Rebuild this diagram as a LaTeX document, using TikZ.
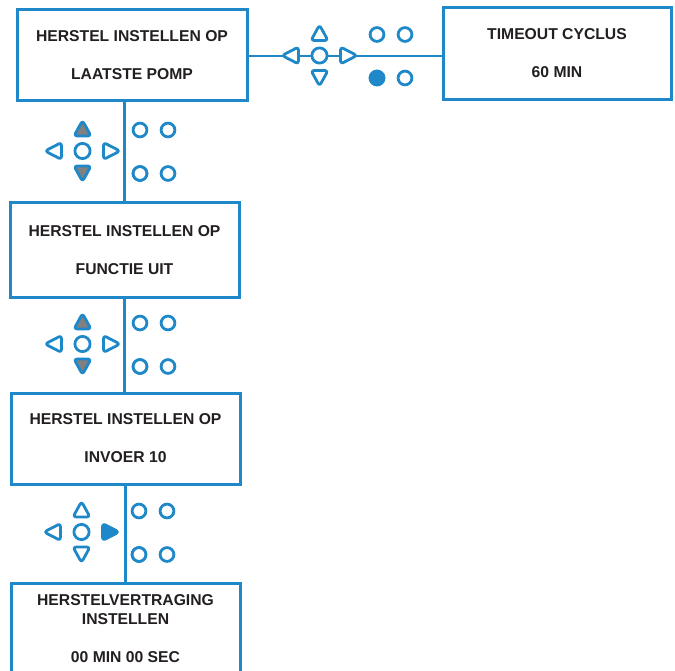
\documentclass[tikz,border=0pt]{standalone}
\usepackage{fontspec}
\setmainfont{Liberation Sans}
\definecolor{keyblue}{RGB}{30,136,200}
\definecolor{keygray}{RGB}{128,128,128}
\definecolor{ink}{RGB}{35,31,32}
\usetikzlibrary{calc}

\begin{document}
\begin{tikzpicture}[x=1pt,y=-1pt,
    panel/.style={draw=keyblue,line width=3pt,fill=white,inner sep=0pt,align=center,text=ink,
      minimum height=91pt,font=\fontsize{15.7}{19}\selectfont\bfseries},
    wire/.style={draw=keyblue,line width=2.8pt},
    key/.style={draw=keyblue,line width=2.8pt,rounded corners=3pt,line join=round}]
  \useasboundingbox (0,0) rectangle (675,671);
  % display panels
  \node[panel,minimum width=230pt] (lastpump) at (132,55.5) {HERSTEL INSTELLEN OP\\[19pt]LAATSTE POMP};
  \node[panel,minimum width=228pt,minimum height=91.5pt] (timeout) at (557,53.3) {TIMEOUT CYCLUS\\[19pt]60 MIN};
  \node[panel,minimum width=229pt,minimum height=94pt] (functieuit) at (124.5,250) {HERSTEL INSTELLEN OP\\[19pt]FUNCTIE UIT};
  \node[panel,minimum width=229pt] (invoer) at (125.5,438.5) {HERSTEL INSTELLEN OP\\[19pt]INVOER 10};
  \node[panel,minimum width=229pt] (vertraging) at (125.5,628.5) {HERSTELVERTRAGING\\INSTELLEN\\[19pt]00 MIN 00 SEC};
  % connectors
  \draw[wire] (lastpump.east |- 0,56) -- (timeout.west |- 0,56);
  \draw[wire] (functieuit.north |- lastpump.south) -- (functieuit.north);
  \draw[wire] (functieuit.south) -- (functieuit.south |- invoer.north);
  \draw[wire] (invoer.south) -- (invoer.south |- vertraging.north);
  % key pads and leds
  \foreach \cx/\cy/\up/\dn/\rt/\led in {319.5/55.5/white/white/white/keyblue,
      82.5/151/keygray/keygray/white/white, 82.5/344/keygray/keygray/white/white,
      81.5/532/white/white/keyblue/white} {
    \draw[key,fill=white] (\cx,\cy) circle (7.6pt);
    \draw[key,fill=\up] ({\cx},{\cy-30.5}) -- ({\cx+8.5},{\cy-15}) -- ({\cx-8.5},{\cy-15}) -- cycle;
    \draw[key,fill=\dn] ({\cx},{\cy+30.5}) -- ({\cx+8.5},{\cy+15}) -- ({\cx-8.5},{\cy+15}) -- cycle;
    \draw[key,fill=white] ({\cx-37.5},{\cy}) -- ({\cx-21},{\cy-8.5}) -- ({\cx-21},{\cy+8.5}) -- cycle;
    \draw[key,fill=\rt] ({\cx+37.5},{\cy}) -- ({\cx+21},{\cy-8.5}) -- ({\cx+21},{\cy+8.5}) -- cycle;
    \foreach \dx in {57.5,85.5} \foreach \dy in {-21,22.5} \draw[key] ({\cx+\dx},{\cy+\dy}) circle (6.9pt);
    \draw[key,fill=\led] ({\cx+57.5},{\cy+22.5}) circle (6.9pt);
  }
\end{tikzpicture}
\end{document}
